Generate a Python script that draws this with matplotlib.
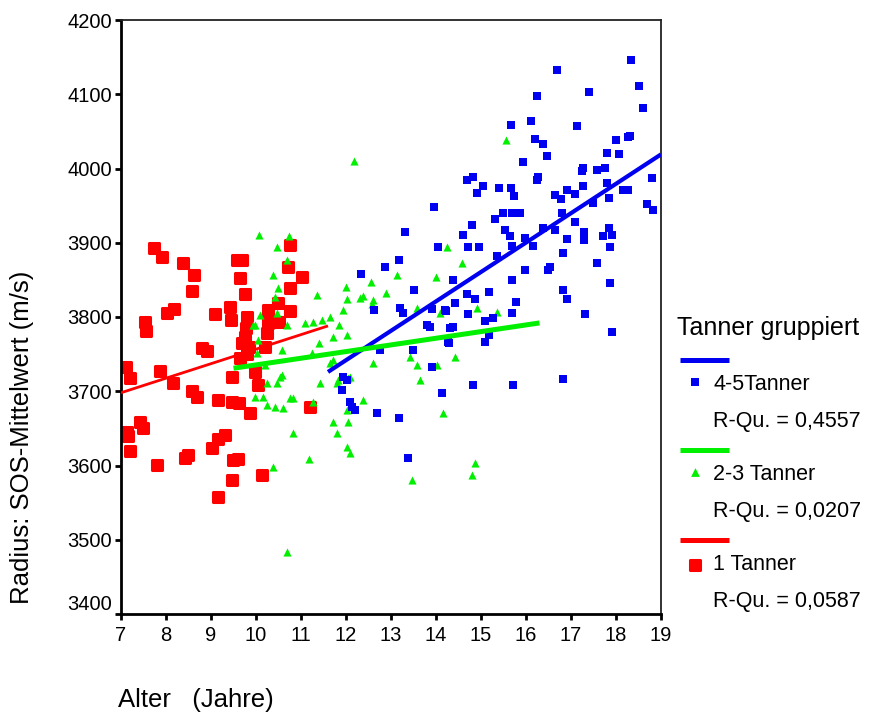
import matplotlib
matplotlib.use('Agg')
import matplotlib.pyplot as plt
from matplotlib.markers import MarkerStyle

plt.rcParams['font.family'] = ['Liberation Sans', 'DejaVu Sans']

# 1 Tanner (red)
red_x = [7.11, 7.20, 7.13, 7.16, 7.20, 7.42, 7.49, 7.53, 7.55, 7.73, 7.91, 7.80, 7.87,
         8.02, 8.18, 8.16, 8.38, 8.62, 8.58, 8.42, 8.49, 8.58, 8.69, 8.80, 8.90,
         9.02, 9.16, 9.31, 9.09, 9.16, 9.16, 9.42, 9.44, 9.47, 9.47, 9.62, 9.47,
         9.49, 9.60, 9.58, 9.69, 9.64, 9.75, 9.80, 9.78, 9.76, 9.69, 9.80, 9.65,
         9.87, 9.98, 10.04, 10.14, 10.27, 10.24, 10.27, 10.49, 10.50, 10.76, 10.72,
         10.76, 10.76, 11.03, 11.20, 9.85, 10.20]
red_y = [3733, 3718, 3645, 3640, 3620, 3659, 3650, 3793, 3781, 3893, 3881, 3601, 3727,
         3805, 3811, 3711, 3873, 3857, 3835, 3610, 3614, 3700, 3692, 3758, 3754,
         3623, 3636, 3641, 3804, 3688, 3557, 3813, 3796, 3719, 3685, 3684, 3581,
         3608, 3609, 3877, 3877, 3852, 3831, 3800, 3785, 3773, 3765, 3750, 3745,
         3671, 3726, 3708, 3587, 3792, 3778, 3810, 3819, 3793, 3897, 3867,
         3839, 3808, 3854, 3679, 3760, 3760]

# 2-3 Tanner (green)
green_x = [10.07, 10.47, 10.73, 10.69, 10.38, 10.49, 10.42, 12.18, 11.36, 11.99, 12.02,
           12.31, 12.38, 12.56, 12.60, 12.58, 12.89, 13.13, 11.94, 11.84, 11.64, 11.47,
           11.27, 11.09, 11.71, 12.02, 11.40, 10.47, 10.69, 10.09, 9.98, 14.00, 14.24,
           14.09, 13.42, 13.57, 10.02, 10.20, 10.24, 10.47, 10.53, 10.58, 9.98, 10.16,
           10.24, 10.42, 10.60, 10.76, 10.82, 10.58, 10.82, 10.38, 11.18, 10.69, 11.24,
           11.42, 11.27, 11.71, 11.80, 12.02, 12.09, 12.04, 12.02, 12.16, 12.38, 11.80,
           11.82, 12.04, 12.09, 11.64, 11.71, 12.60, 13.58, 13.64, 13.47, 14.16, 14.02,
           14.42, 14.87, 14.80, 14.58, 14.91, 15.36, 15.56, 9.93, 10.04]
green_y = [3910, 3894, 3909, 3877, 3857, 3839, 3827, 4010, 3830, 3840, 3824,
           3826, 3828, 3847, 3823, 3817, 3832, 3857, 3809, 3789, 3800, 3796,
           3793, 3792, 3773, 3776, 3765, 3805, 3789, 3803, 3789, 3854, 3894,
           3805, 3746, 3812, 3751, 3735, 3711, 3711, 3719, 3722, 3692, 3692,
           3681, 3679, 3677, 3691, 3691, 3756, 3644, 3598, 3609, 3483, 3752,
           3711, 3686, 3659, 3644, 3625, 3617, 3659, 3675, 3679, 3688, 3711,
           3715, 3718, 3719, 3738, 3742, 3738, 3735, 3715, 3580, 3671, 3735,
           3746, 3603, 3587, 3873, 3812, 3807, 4038, 3789, 3769]

# 4-5 Tanner (blue)
blue_x = [18.33, 16.69, 18.51, 16.24, 17.40, 18.60, 15.67, 16.11, 17.13, 16.20, 16.38,
          16.47, 15.93, 18.00, 18.27, 18.31, 17.80, 18.07, 17.27, 17.24, 17.58, 17.76,
          18.80, 16.27, 16.24, 14.69, 14.82, 15.04, 14.91, 15.40, 15.67, 15.73, 16.64,
          16.78, 16.91, 17.09, 17.27, 17.80, 18.16, 18.27, 17.84, 18.69, 18.82, 17.49,
          16.80, 17.09, 15.87, 15.69, 15.49, 15.31, 14.80, 14.60, 15.53, 15.64, 16.64,
          16.38, 17.29, 17.29, 17.84, 17.91, 17.87, 17.71, 14.71, 14.96, 15.98, 16.91,
          16.16, 16.82, 17.58, 17.87, 15.69, 15.98, 16.53, 16.49, 16.82, 16.91, 17.31,
          17.91, 14.38, 14.69, 14.87, 14.42, 15.18, 15.78, 15.69, 15.09, 14.71, 14.20,
          14.38, 14.31, 15.09, 15.18, 13.96, 13.31, 14.04, 13.18, 12.87, 12.33, 15.36,
          13.51, 13.20, 13.27, 13.91, 14.22, 12.62, 13.80, 13.87, 14.27, 14.29, 12.76,
          13.49, 13.91, 11.93, 12.02, 11.91, 12.09, 12.13, 12.20, 12.69, 13.18, 14.13,
          14.82, 13.38, 16.82, 15.71, 15.69, 15.27]
blue_y = [4146, 4133, 4111, 4098, 4103, 4081, 4059, 4064, 4057, 4040, 4033,
          4017, 4009, 4038, 4042, 4044, 4021, 4019, 4001, 3997, 3998, 4001,
          3987, 3989, 3985, 3985, 3989, 3976, 3967, 3974, 3974, 3963, 3964,
          3959, 3971, 3966, 3976, 3980, 3971, 3971, 3960, 3952, 3944, 3953,
          3940, 3928, 3940, 3940, 3940, 3932, 3924, 3910, 3917, 3909, 3917,
          3920, 3914, 3904, 3920, 3910, 3894, 3909, 3894, 3894, 3906, 3905,
          3896, 3886, 3873, 3846, 3850, 3863, 3868, 3863, 3836, 3824, 3804,
          3780, 3850, 3831, 3824, 3819, 3834, 3820, 3805, 3795, 3804, 3809,
          3786, 3785, 3766, 3776, 3948, 3914, 3894, 3877, 3867, 3858, 3882,
          3836, 3812, 3805, 3811, 3808, 3809, 3789, 3786, 3766, 3765, 3756,
          3756, 3733, 3719, 3715, 3702, 3686, 3679, 3675, 3671, 3664, 3698,
          3708, 3610, 3716, 3708, 3895, 3799]

# fitted regression lines (end points)
red_fit_x = [7.0, 11.6]
red_fit_y = [3698, 3788]
green_fit_x = [9.5, 16.3]
green_fit_y = [3731, 3792]
blue_fit_x = [11.6, 19.0]
blue_fit_y = [3726, 4019]

groups = ['4-5Tanner', '2-3 Tanner', '1 Tanner']
r_squared = ['0,4557', '0,0207', '0,0587']

x_ticks = list(range(7, 20))
y_ticks = list(range(3400, 4201, 100))

RED = '#ff0000'
GREEN = '#00f000'
BLUE = '#0000f0'

fig = plt.figure(figsize=(8.84, 7.18), dpi=100)
ax = fig.add_axes([121 / 884, 1 - 614 / 718, 540 / 884, 594 / 718])

red_marker = MarkerStyle('s', joinstyle='round')
ax.scatter(red_x, red_y, s=52, marker=red_marker, color=RED, edgecolors=RED,
           linewidths=2.2, zorder=2)
ax.scatter(green_x, green_y, s=34, marker='^', color=GREEN, linewidths=0, zorder=3)
ax.scatter(blue_x, blue_y, s=30, marker='s', color=BLUE, linewidths=0, zorder=4,
           clip_on=False)

ax.plot(blue_fit_x, blue_fit_y, color=BLUE, lw=3.0, zorder=5, solid_capstyle='butt')
ax.plot(red_fit_x, red_fit_y, color=RED, lw=2.0, zorder=5, solid_capstyle='butt')
ax.plot(green_fit_x, green_fit_y, color=GREEN, lw=3.6, zorder=6, solid_capstyle='butt')

ax.set_xlim(7, 19)
ax.set_ylim(3400, 4200)
ax.set_xticks(x_ticks)
ax.set_yticks(y_ticks)
ax.tick_params(direction='out', length=4.5, width=2.0, labelsize=14.5, color='black')
ax.tick_params(axis='y', pad=2)
ax.tick_params(axis='x', pad=4)
for lab in ax.get_yticklabels():
    if lab.get_text() == '3400':
        lab.set_verticalalignment('bottom')

for side in ['left', 'bottom']:
    ax.spines[side].set_linewidth(2.0)
    ax.spines[side].set_color('black')
for side in ['top', 'right']:
    ax.spines[side].set_linewidth(1.3)
    ax.spines[side].set_color('#222222')

fig.text(22 / 884, 1 - 437 / 718, 'Radius: SOS-Mittelwert (m/s)', rotation=90,
         ha='center', va='center', fontsize=18.5)
fig.text(118 / 884, 1 - 700 / 718, 'Alter   (Jahre)', ha='left', va='center',
         fontsize=18.5)

# legend drawn in pixel coordinates
lax = fig.add_axes([0, 0, 1, 1])
lax.set_xlim(0, 884)
lax.set_ylim(718, 0)
lax.axis('off')
lax.patch.set_alpha(0)

lax.text(677, 328, 'Tanner gruppiert', ha='left', va='center', fontsize=18)
colors = [BLUE, GREEN, RED]
markers = ['s', '^', red_marker]
sizes = [30, 40, 52]
for i, (name, r2) in enumerate(zip(groups, r_squared)):
    y0 = 360 + i * 90
    lax.plot([680, 729], [y0, y0], color=colors[i], lw=3.6, solid_capstyle='butt')
    if i == 2:
        lax.scatter([695], [y0 + 25], s=sizes[i], marker=markers[i], color=colors[i],
                    edgecolors=colors[i], linewidths=2.2)
    else:
        lax.scatter([695], [y0 + 22], s=sizes[i], marker=markers[i], color=colors[i],
                    linewidths=0)
    lax.text(713, y0 + 24, name, ha='left', va='center', fontsize=15.5)
    lax.text(713, y0 + 62, 'R-Qu. = ' + r2, ha='left', va='center', fontsize=15.5)

fig.savefig('out.png', dpi=100)
